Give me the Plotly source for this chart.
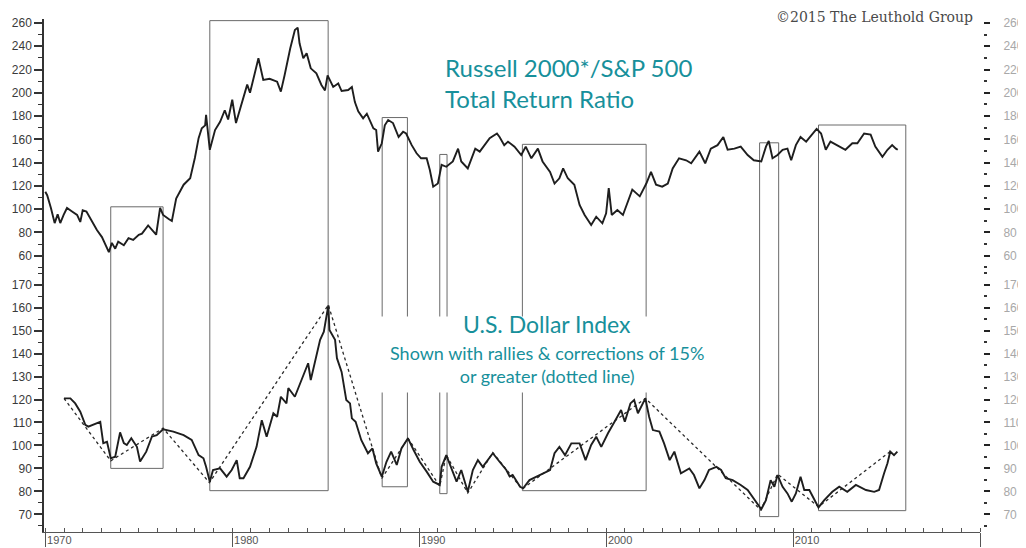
import plotly.graph_objects as go

# ---------------- data ----------------
ratio_years = [1970.0, 1970.1, 1970.3, 1970.5, 1970.66, 1970.8, 1970.98, 1971.16, 1971.43, 1971.7,
               1971.87, 1972.0, 1972.2, 1972.5, 1972.76, 1973.03, 1973.3, 1973.4, 1973.56, 1973.74,
               1973.9, 1974.2, 1974.45, 1974.7, 1975.0, 1975.17, 1975.5, 1975.7, 1975.93, 1976.14,
               1976.3, 1976.6, 1976.77, 1977.0, 1977.4, 1977.75, 1978.0, 1978.2, 1978.37, 1978.55,
               1978.6, 1978.8, 1978.9, 1979.08, 1979.35, 1979.6, 1979.78, 1980.0, 1980.2, 1980.5,
               1980.8, 1980.95, 1981.1, 1981.4, 1981.66, 1982.0, 1982.4, 1982.6, 1982.8, 1983.1,
               1983.35, 1983.5, 1983.6, 1983.8, 1983.98, 1984.2, 1984.5, 1984.77, 1984.96, 1985.1,
               1985.4, 1985.67, 1985.85, 1986.2, 1986.4, 1986.56, 1986.74, 1987.0, 1987.2, 1987.55,
               1987.7, 1987.8, 1988.0, 1988.16, 1988.34, 1988.6, 1988.9, 1989.14, 1989.3, 1989.6,
               1989.86, 1990.1, 1990.4, 1990.57, 1990.75, 1991.0, 1991.2, 1991.45, 1991.8, 1992.08,
               1992.25, 1992.6, 1993.0, 1993.24, 1993.77, 1994.16, 1994.3, 1994.55, 1994.75, 1995.1,
               1995.46, 1995.7, 1996.0, 1996.35, 1996.6, 1997.0, 1997.24, 1997.5, 1997.7, 1997.95,
               1998.3, 1998.58, 1998.85, 1999.2, 1999.47, 1999.8, 2000.0, 2000.14, 2000.3, 2000.6,
               2000.9, 2001.07, 2001.4, 2001.8, 2002.15, 2002.4, 2002.67, 2003.0, 2003.3, 2003.56,
               2003.9, 2004.28, 2004.55, 2004.99, 2005.3, 2005.6, 2005.96, 2006.27, 2006.5, 2006.86,
               2007.2, 2007.57, 2007.9, 2008.3, 2008.55, 2008.7, 2008.9, 2009.17, 2009.44, 2009.7,
               2009.9, 2010.15, 2010.4, 2010.7, 2011.04, 2011.26, 2011.5, 2011.75, 2012.0, 2012.47,
               2012.8, 2013.17, 2013.44, 2013.8, 2014.15, 2014.4, 2014.78, 2015.05, 2015.3, 2015.5,
               2015.6]
ratio_vals = [115, 112, 101, 88, 95.5, 88, 95, 101, 98, 95,
              89, 99, 98, 89, 82, 76, 66, 63, 71, 66,
              72, 69, 75, 73.5, 78, 79, 86, 82, 78, 101,
              95, 91.6, 89.8, 109, 121, 126.5, 144, 161, 169.5, 172,
              181, 151, 158, 168, 175, 185, 177, 194, 174, 191,
              207, 200, 209.5, 229.6, 211, 212, 209.5, 201, 215, 238,
              254, 256, 242.5, 229.6, 234, 221, 216.7, 206.7, 202, 215,
              205, 208, 201.5, 202.4, 205, 192, 184, 178, 182, 169.5,
              168, 149.4, 156.6, 172, 176.6, 174, 162, 166.5, 165, 155,
              148, 143.7, 143.7, 133.6, 119.3, 122, 138, 136.4, 141, 152,
              141, 135, 152, 149.4, 161, 165, 162, 155, 158, 153.7,
              146.5, 153.7, 143.7, 152, 141, 132, 122, 126.5, 135, 126.5,
              121, 103.6, 95, 86.3, 93.5, 87.8, 96.4, 118, 95, 99.3,
              95, 102.4, 116.8, 111, 122, 132, 121, 119.3, 122, 135,
              143.7, 142, 139.4, 149.4, 139.4, 152, 155, 162, 151, 152,
              153.7, 146.5, 142, 141, 153.7, 158.6, 143.7, 146.5, 151, 152,
              142, 155, 162, 158, 165, 169, 165, 151, 158, 153.7,
              151, 156.6, 156.6, 165, 164, 153.7, 145, 151, 155, 152,
              151]

dollar_years = [1971.0, 1971.34, 1971.6, 1971.87, 1972.14, 1972.3, 1972.94, 1973.1, 1973.3, 1973.5,
                1973.74, 1974.0, 1974.2, 1974.36, 1974.6, 1974.9, 1975.07, 1975.4, 1975.7, 1975.96,
                1976.3, 1976.85, 1977.4, 1977.83, 1978.2, 1978.46, 1978.6, 1978.8, 1978.97, 1979.35,
                1979.7, 1979.97, 1980.24, 1980.4, 1980.6, 1980.95, 1981.3, 1981.58, 1981.84, 1982.2,
                1982.4, 1982.6, 1982.9, 1983.0, 1983.35, 1983.8, 1984.06, 1984.2, 1984.4, 1984.7,
                1984.9, 1985.05, 1985.14, 1985.2, 1985.5, 1985.6, 1985.85, 1986.1, 1986.3, 1986.4,
                1986.6, 1986.9, 1987.26, 1987.5, 1987.7, 1988.0, 1988.25, 1988.5, 1988.8, 1989.05,
                1989.4, 1989.7, 1990.03, 1990.4, 1990.75, 1991.1, 1991.2, 1991.45, 1991.7, 1992.0,
                1992.25, 1992.6, 1992.87, 1993.14, 1993.4, 1993.94, 1994.3, 1994.66, 1994.84, 1995.0,
                1995.4, 1995.56, 1995.9, 1996.45, 1997.0, 1997.24, 1997.5, 1997.8, 1998.14, 1998.58,
                1998.9, 1999.2, 1999.47, 1999.74, 2000.1, 2000.45, 2000.8, 2001.0, 2001.3, 2001.5,
                2001.7, 2002.1, 2002.3, 2002.5, 2002.85, 2003.1, 2003.4, 2003.65, 2004.0, 2004.45,
                2004.7, 2004.99, 2005.26, 2005.5, 2005.9, 2006.15, 2006.4, 2006.77, 2007.2, 2007.57,
                2008.0, 2008.3, 2008.55, 2008.8, 2009.0, 2009.17, 2009.44, 2009.7, 2009.93, 2010.15,
                2010.4, 2010.6, 2010.87, 2011.13, 2011.36, 2011.67, 2012.1, 2012.47, 2012.9, 2013.36,
                2013.9, 2014.34, 2014.6, 2014.87, 2015.05, 2015.2, 2015.4, 2015.58]
dollar_vals = [120.5, 120.5, 118.3, 114.7, 109, 108.2, 110.3, 101, 101.6, 94.4,
               95.1, 105.7, 101, 100.2, 103.1, 99.4, 93, 97.3, 103.8, 104.5,
               107, 106, 104.5, 102.4, 95.8, 94.4, 90.7, 84.2, 89.3, 90,
               86.4, 89.3, 93.6, 85.7, 85.7, 90.7, 99.4, 111, 103.8, 114,
               112.5, 121.2, 118.3, 125, 121.2, 130, 135.8, 128.5, 135, 146,
               149.5, 157.5, 161, 150.3, 146, 138, 132, 119.8, 118.3, 111.8,
               110.3, 102.4, 96.6, 98.7, 92.2, 86.4, 92.9, 97.3, 91.5, 98.7,
               103.1, 98, 92.9, 88.6, 84.2, 82.8, 90.7, 95.8, 90.7, 84.2,
               89.3, 79.8, 89.3, 93.6, 90.7, 96.6, 92.9, 89.3, 86.5, 87.1,
               82, 81.3, 84.9, 87.1, 89.3, 96.6, 99.4, 95.8, 100.9, 100.9,
               93.6, 100.2, 103.8, 99.4, 105.3, 110.3, 115.4, 110.3, 118.3, 119.8,
               114, 120.5, 112.5, 106.7, 106, 100.9, 93.6, 97.3, 87.9, 90,
               87.1, 81.3, 84.9, 89.3, 90.7, 89.3, 85.7, 84.9, 82.8, 80.6,
               75.5, 72.2, 76.2, 84.9, 82, 87.1, 82, 79.1, 75.5, 79.1,
               86.4, 80.6, 80.6, 76.2, 73, 76.2, 79.8, 82, 79.8, 82.8,
               80.6, 79.8, 80.6, 87.9, 92.2, 97.3, 95.8, 97.3]

# turning points of 15%+ rallies / corrections (dotted line)
swing_years = [1971.0, 1973.5, 1976.3, 1978.78, 1985.14, 1988.0, 1989.4, 1991.1, 1991.45,
               1992.6, 1993.94, 1995.5, 2002.1, 2008.27, 2009.17, 2011.36, 2015.3]
swing_vals = [120.5, 93.3, 107.5, 83.8, 161.2, 85.7, 103.1, 82.3, 95.8,
              79.3, 96.9, 81, 120.5, 71.9, 87.5, 73.3, 98]

# dollar rally periods (boxes): start, end, top on ratio scale, bottom on dollar scale
box_start = [1973.5, 1978.8, 1988.02, 1991.1, 1995.52, 2008.21, 2011.36]
box_end = [1976.3, 1985.13, 1989.37, 1991.49, 2002.14, 2009.23, 2016.03]
box_top_ratio = [102, 262, 178.7, 147, 155.7, 157, 172.3]
box_bottom_dollar = [90, 80.3, 82, 79, 80.3, 69, 71.6]

decades = [1970, 1980, 1990, 2000, 2010]
ratio_ticks = list(range(60, 261, 20))
dollar_ticks = list(range(70, 171, 10))

# ---------------- layout geometry ----------------
# the page body has an 8px margin, so the figure sits at (8, 8) in the window
OFF = 8
W, H = 1026, 548
ML, MR, MT, MB = 44 - OFF, 48, 19 - OFF, 24
PW = W - ML - MR
PH = H - MT - MB
X_RANGE = [1969.93, 2020.0]
X_DOM = [0, 936 / PW]
SPLIT = 262 / PH
LOW_RANGE = [62.3, 176.4]
UP_RANGE = [47.7, 263.4]
TEAL = "#17909b"

def px_x(px):
    # window pixel -> paper fraction
    return (px - OFF - ML) / PW

def px_y(py):
    return (H - MB - (py - OFF)) / PH

fig = go.Figure()

fig.add_trace(go.Scatter(x=ratio_years, y=ratio_vals, xaxis="x", yaxis="y2", mode="lines",
                         line=dict(color="#1e1e1e", width=1.9), showlegend=False, hoverinfo="skip"))
fig.add_trace(go.Scatter(x=swing_years, y=swing_vals, xaxis="x", yaxis="y", mode="lines",
                         line=dict(color="#2a2a2a", width=1.3, dash="dot"), showlegend=False,
                         hoverinfo="skip"))
fig.add_trace(go.Scatter(x=dollar_years, y=dollar_vals, xaxis="x", yaxis="y", mode="lines",
                         line=dict(color="#1e1e1e", width=1.9), showlegend=False, hoverinfo="skip"))
# helper traces so the label/mirror axes are drawn
for xa, ya in [("x3", "y"), ("x", "y3"), ("x", "y4")]:
    fig.add_trace(go.Scatter(x=[None], y=[None], xaxis=xa, yaxis=ya, mode="lines",
                             showlegend=False, hoverinfo="skip"))

# boxes: upper part in ratio coords, lower part in dollar coords
shapes = []
for x0, x1, top, bot in zip(box_start, box_end, box_top_ratio, box_bottom_dollar):
    shapes.append(dict(type="path", xref="x", yref="y2", layer="below",
                       path=f"M {x0},{UP_RANGE[0]} L {x0},{top} L {x1},{top} L {x1},{UP_RANGE[0]}",
                       line=dict(color="#6a6a6a", width=1)))
    shapes.append(dict(type="path", xref="x", yref="y", layer="below",
                       path=f"M {x0},{LOW_RANGE[1]} L {x0},{bot} L {x1},{bot} L {x1},{LOW_RANGE[1]}",
                       line=dict(color="#6a6a6a", width=1)))

left_tick_font = dict(family="Liberation Sans, Arial, sans-serif", size=12, color="#3a3a3a")
right_tick_font = dict(family="Liberation Sans, Arial, sans-serif", size=12, color="#a8a8a8")

common_left = dict(anchor="x", showline=True, linecolor="#333", linewidth=1.5, ticks="outside",
                   ticklen=8, tickwidth=1.5, tickcolor="#333", showgrid=False, zeroline=False,
                   tickfont=left_tick_font, automargin=False)
common_right = dict(side="right", anchor="free", position=px_x(983), showline=False,
                    ticks="outside", ticklen=6, tickwidth=2, tickcolor="#222", showgrid=False,
                    zeroline=False, tickfont=right_tick_font, ticklabelstandoff=11,
                    automargin=False)

fig.update_layout(
    width=W, height=H,
    margin=dict(l=ML, r=MR, t=MT, b=MB, pad=0),
    paper_bgcolor="white", plot_bgcolor="white",
    showlegend=False,
    xaxis=dict(domain=X_DOM, range=X_RANGE, anchor="y", showline=True, linecolor="#555",
               linewidth=1.3, ticks="outside", ticklen=14, tickwidth=1.3, tickcolor="#555",
               tickvals=decades + [2020], showticklabels=False, showgrid=False, zeroline=False,
               automargin=False,
               minor=dict(ticks="inside", tick0=1970, dtick=1, ticklen=4, tickwidth=1.2,
                          tickcolor="#555", showgrid=False)),
    xaxis3=dict(overlaying="x", anchor="y", range=X_RANGE, side="bottom", showline=False,
                ticks="", tickvals=decades, ticktext=[str(d) for d in decades],
                ticklabelshift=14, showgrid=False, zeroline=False, automargin=False,
                tickfont=dict(family="Liberation Sans, Arial, sans-serif", size=11, color="#555")),
    yaxis=dict(domain=[0, SPLIT], range=LOW_RANGE, tickvals=dollar_ticks,
               minor=dict(ticks="outside", tick0=0, dtick=5, ticklen=4, tickwidth=1.3,
                          tickcolor="#333", showgrid=False), **common_left),
    yaxis2=dict(domain=[SPLIT, 1], range=UP_RANGE, tickvals=ratio_ticks,
                minor=dict(ticks="outside", tick0=0, dtick=10, ticklen=4, tickwidth=1.3,
                           tickcolor="#333", showgrid=False), **common_left),
    yaxis3=dict(overlaying="y2", range=UP_RANGE, tickvals=ratio_ticks,
                minor=dict(ticks="outside", tick0=0, dtick=10, ticklen=3, tickwidth=2,
                           tickcolor="#333", showgrid=False), **common_right),
    yaxis4=dict(overlaying="y", range=LOW_RANGE, tickvals=dollar_ticks,
                minor=dict(ticks="outside", tick0=0, dtick=5, ticklen=3, tickwidth=2,
                           tickcolor="#333", showgrid=False), **common_right),
    shapes=shapes,
    annotations=[
        # white panel behind the dollar caption
        dict(xref="paper", yref="paper", x=px_x(546.5), y=px_y(354.5), xanchor="center",
             yanchor="middle", text=" ", showarrow=False, width=340, height=75,
             bgcolor="white", borderpad=0),
        dict(xref="paper", yref="paper", x=px_x(443), y=px_y(83), xanchor="left",
             yanchor="middle", align="left", showarrow=False,
             text="Russell 2000*/S&P 500<br>Total Return Ratio",
             font=dict(family="Lato, Open Sans, sans-serif", size=24, color=TEAL)),
        dict(xref="paper", yref="paper", x=px_x(546.5), y=px_y(324), xanchor="center",
             yanchor="middle", showarrow=False, text="U.S. Dollar Index", borderpad=0,
             font=dict(family="Lato, Open Sans, sans-serif", size=23, color=TEAL)),
        dict(xref="paper", yref="paper", x=px_x(546.5), y=px_y(364.5), xanchor="center",
             yanchor="middle", align="center", showarrow=False, borderpad=0,
             text="Shown with rallies & corrections of 15%<br>or greater (dotted line)",
             font=dict(family="Lato, Open Sans, sans-serif", size=18, color=TEAL)),
        dict(xref="paper", yref="paper", x=px_x(975), y=px_y(17), xanchor="right",
             yanchor="middle", showarrow=False, text="©2015 The Leuthold Group",
             font=dict(family="DejaVu Serif, Liberation Serif, serif", size=14, color="#4a4a4a")),
    ],
)

fig.write_html("out.html")
